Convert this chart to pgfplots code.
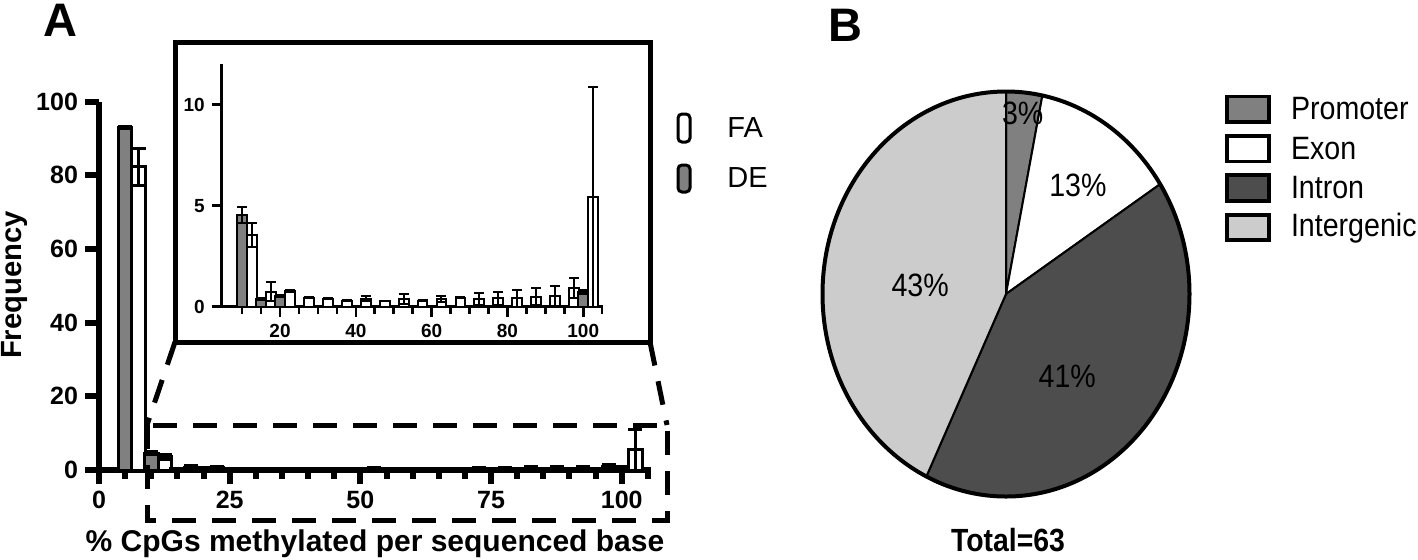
\documentclass[border=0pt]{standalone}
\usepackage{fontspec}
\setmainfont{Liberation Sans}
\usepackage{graphicx}
\usepackage{pgfplots}
\usepackage{pgfplotstable}
\pgfplotsset{compat=1.18}
\definecolor{cMid}{RGB}{128,128,128}
\definecolor{cDark}{RGB}{77,77,77}
\definecolor{cLight}{RGB}{204,204,204}

% DE (gray) : bin centre 5,10,...,100 ; mean and SD
\pgfplotstableread{
x y e
5 93 0.3
10 4.55 0.41
15 0.4 0.05
20 0.55 0.05
25 0 0
30 0 0
35 0 0
40 0 0
45 0 0
50 0 0
55 0 0
60 0 0
65 0 0
70 0 0
75 0 0
80 0 0
85 0 0
90 0 0
95 0 0
100 0.74 0.1
}\DEtab

% FA (white)
\pgfplotstableread{
x y e
7.6 82.3 5
12.6 3.55 0.58
17.6 0.75 0.45
22.6 0.8 0.05
27.6 0.45 0.03
32.6 0.4 0.03
37.6 0.3 0.02
42.6 0.4 0.13
47.6 0.28 0.02
52.6 0.38 0.25
57.6 0.3 0.02
62.6 0.38 0.15
67.6 0.45 0.03
72.6 0.38 0.28
77.6 0.41 0.33
82.6 0.41 0.42
87.6 0.5 0.44
92.6 0.53 0.49
97.6 0.91 0.49
102.6 5.45 5.45
}\FAtab

\pgfplotstableread{
region n
Promoter 2
Exon 8
Intron 26
Intergenic 27
}\pietab

\begin{document}
\begin{tikzpicture}
\useasboundingbox (0,0) rectangle (709pt,-279.5pt);

% ---------- main histogram ----------
\begin{axis}[
  at={(49.5pt,-235pt)}, anchor=south west,
  scale only axis, width=276pt, height=184.15pt,
  xmin=0, xmax=105.6, ymin=0, ymax=100,
  axis x line=bottom, axis y line=left,
  axis line style={line width=3pt,-},
  xtick={0,25,50,75,100}, minor xtick={0,5,...,105},
  ytick={0,20,...,100},
  tick align=outside,
  major tick length=7pt, minor tick length=4.5pt,
  tick style={line width=3pt, black},
  tick label style={font=\bfseries\fontsize{12.5}{14}\selectfont},
  /pgf/number format/assume math mode=true,
  clip=false,
]
\addplot[ybar, bar width=2.6, bar shift=0pt, fill=white, draw=black, line width=1.5pt,
  error bars/.cd, y dir=both, y explicit,
  error bar style={line width=1.5pt},
  error mark options={rotate=90, line width=1.5pt, mark size=3.5pt}]
  table[x=x, y=y, y error=e]{\FAtab};
\addplot[ybar, bar width=2.6, bar shift=0pt, fill=cMid, draw=black, line width=1.5pt,
  error bars/.cd, y dir=both, y explicit,
  error bar style={line width=1.5pt},
  error mark options={rotate=90, line width=1.5pt, mark size=3.5pt}]
  table[x=x, y=y, y error=e]{\DEtab};
\end{axis}

% zoom indicators
\draw[line width=2.5pt, dash pattern=on 12pt off 8pt] (73.5pt,-212.5pt) rectangle (333.5pt,-260pt);
\draw[line width=2.5pt, dash pattern=on 12pt off 8pt] (87.5pt,-171pt) -- (73.5pt,-212.5pt);
\draw[line width=2.5pt, dash pattern=on 12pt off 8pt] (325pt,-171pt) -- (333.5pt,-212.5pt);
\draw[line width=2.5pt, fill=white] (87.5pt,-21pt) rectangle (325pt,-171pt);

% ---------- inset ----------
\begin{axis}[
  at={(110.85pt,-153.35pt)}, anchor=south west,
  scale only axis, width=190.8pt, height=121.2pt,
  xmin=4.6, xmax=105.3, ymin=0, ymax=12,
  axis x line=bottom, axis y line=left,
  axis line style={line width=1.3pt,-},
  xtick={20,40,...,100}, minor xtick={10,15,...,105},
  ytick={0,5,10},
  tick align=outside,
  major tick length=5pt, minor tick length=3.5pt,
  tick style={line width=1.3pt, black},
  tick label style={font=\bfseries\fontsize{9.5}{11}\selectfont},
  /pgf/number format/assume math mode=true,
  clip=false,
]
\addplot[ybar, bar width=2.6, bar shift=0pt, fill=white, draw=black, line width=1pt,
  skip coords between index={0}{1},
  error bars/.cd, y dir=both, y explicit,
  error bar style={line width=1pt},
  error mark options={rotate=90, line width=1pt, mark size=2.5pt}]
  table[x=x, y=y, y error=e]{\FAtab};
\addplot[ybar, bar width=2.6, bar shift=0pt, fill=cMid, draw=black, line width=1pt,
  skip coords between index={0}{1},
  error bars/.cd, y dir=both, y explicit,
  error bar style={line width=1pt},
  error mark options={rotate=90, line width=1pt, mark size=2.5pt}]
  table[x=x, y=y, y error=e]{\DEtab};
\end{axis}

% legend A
\draw[line width=1.5pt, rounded corners=2pt, fill=white] (339pt,-57pt) rectangle (345pt,-71pt);
\draw[line width=1.5pt, rounded corners=2pt, fill=cMid] (339pt,-82.5pt) rectangle (345pt,-96pt);
\node[anchor=west, inner sep=0pt, font=\fontsize{14.5}{16}\selectfont] at (363.5pt,-64pt) {FA};
\node[anchor=west, inner sep=0pt, font=\fontsize{14.5}{16}\selectfont] at (363.5pt,-88.75pt) {DE};

% labels A
\node[font=\bfseries\fontsize{23.5}{26}\selectfont] at (30pt,-10pt) {A};
\node[font=\bfseries\fontsize{14.6}{16}\selectfont, rotate=90, anchor=base] at (10.5pt,-142.5pt) {Frequency};
\node[font=\bfseries\fontsize{15}{17}\selectfont, anchor=base] at (187.5pt,-275.5pt) {\% CpGs methylated per sequenced base};

% ---------- pie ----------
\pgfplotstablegetelem{0}{n}\of\pietab \let\nA\pgfplotsretval
\pgfplotstablegetelem{1}{n}\of\pietab \let\nB\pgfplotsretval
\pgfplotstablegetelem{2}{n}\of\pietab \let\nC\pgfplotsretval
\pgfplotstablegetelem{3}{n}\of\pietab \let\nD\pgfplotsretval
\pgfmathsetmacro\tot{\nA+\nB+\nC+\nD}
\pgfmathsetmacro\aA{90}
\pgfmathsetmacro\aB{90-360*\nA/\tot}
\pgfmathsetmacro\aC{\aB-360*\nB/\tot}
\pgfmathsetmacro\aD{\aC-360*\nC/\tot}
\pgfmathsetmacro\aE{-270}
\node[font=\bfseries\fontsize{23.5}{26}\selectfont] at (422.5pt,-12.5pt) {B};
\begin{axis}[
  at={(503pt,-147pt)}, anchor=center,
  scale only axis, width=183.5pt, height=202.5pt,
  xmin=-1, xmax=1, ymin=-1, ymax=1,
  hide axis, clip=false,
]
\addplot[draw=none] coordinates {(0,0)};
\filldraw[fill=cMid, draw=black, line width=1pt] (axis cs:0,0) -- (axis cs:{cos(\aA)},{sin(\aA)}) arc[start angle=\aA, end angle=\aB, x radius=91.75pt, y radius=101.25pt] -- cycle;
\filldraw[fill=white, draw=black, line width=1pt] (axis cs:0,0) -- (axis cs:{cos(\aB)},{sin(\aB)}) arc[start angle=\aB, end angle=\aC, x radius=91.75pt, y radius=101.25pt] -- cycle;
\filldraw[fill=cDark, draw=black, line width=1pt] (axis cs:0,0) -- (axis cs:{cos(\aC)},{sin(\aC)}) arc[start angle=\aC, end angle=\aD, x radius=91.75pt, y radius=101.25pt] -- cycle;
\filldraw[fill=cLight, draw=black, line width=1pt] (axis cs:0,0) -- (axis cs:{cos(\aD)},{sin(\aD)}) arc[start angle=\aD, end angle=\aE, x radius=91.75pt, y radius=101.25pt] -- cycle;
\draw[line width=2pt] (axis cs:0,0) ellipse[x radius=91.75pt, y radius=101.25pt];
\node[font=\fontsize{14.3}{16}\selectfont] at (axis cs:0.091,0.89) {\scalebox{1}[1.13]{3\%}};
\node[font=\fontsize{14.3}{16}\selectfont] at (axis cs:0.392,0.538) {\scalebox{1}[1.13]{13\%}};
\node[font=\fontsize{14.3}{16}\selectfont] at (axis cs:-0.468,0.041) {\scalebox{1}[1.13]{43\%}};
\node[font=\fontsize{14.3}{16}\selectfont] at (axis cs:0.334,-0.408) {\scalebox{1}[1.13]{41\%}};
\end{axis}

% legend B
\draw[line width=1.75pt, fill=cMid] (613.5pt,-48.3pt) rectangle (634.5pt,-61pt);
\draw[line width=1.75pt, fill=white] (613.5pt,-68pt) rectangle (634.5pt,-80.8pt);
\draw[line width=1.75pt, fill=cDark] (613.5pt,-87.5pt) rectangle (634.5pt,-100.5pt);
\draw[line width=1.75pt, fill=cLight] (613.5pt,-107.5pt) rectangle (634.5pt,-120pt);
\node[anchor=west, inner sep=0pt, font=\fontsize{14.3}{16}\selectfont] at (645.3pt,-54.5pt) {\scalebox{1}[1.13]{Promoter}};
\node[anchor=west, inner sep=0pt, font=\fontsize{14.3}{16}\selectfont] at (645.3pt,-74.5pt) {\scalebox{1}[1.13]{Exon}};
\node[anchor=west, inner sep=0pt, font=\fontsize{14.3}{16}\selectfont] at (645.3pt,-94pt) {\scalebox{1}[1.13]{Intron}};
\node[anchor=west, inner sep=0pt, font=\fontsize{14.3}{16}\selectfont] at (645.3pt,-114pt) {\scalebox{1}[1.13]{Intergenic}};
\node[inner sep=0pt, font=\bfseries\fontsize{14.2}{16}\selectfont] at (504pt,-270pt) {\scalebox{1}[1.13]{Total=63}};
\end{tikzpicture}
\end{document}
